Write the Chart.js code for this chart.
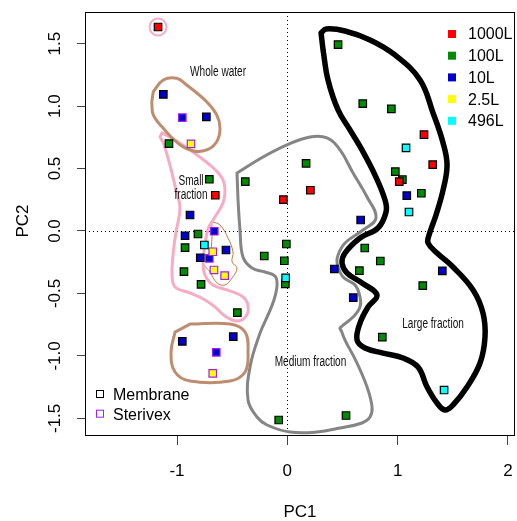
<!DOCTYPE html>
<html><head><meta charset="utf-8">
<script src="https://cdn.jsdelivr.net/npm/chart.js@4/dist/chart.umd.min.js"></script>
<style>html,body{margin:0;padding:0;background:#fff;overflow:hidden}canvas{display:block}</style>
</head><body>
<canvas id="c" width="517" height="521"></canvas>
<script>
// ---------- data ----------
const seriesNames  = ['1000L','100L','10L','2.5L','496L'];
const seriesColors = ['#ff0000','#008b00','#0000cd','#ffff00','#00ffff'];
const filterNames  = ['Membrane','Sterivex'];
const filterColors = ['#000000','#a020f0'];

const pc1_1000L = [-1.172,-0.653,-0.036,0.209,1.239,1.318,1.015];
const pc2_1000L = [1.633,0.286,0.251,0.326,0.771,0.531,0.395];
const flt_1000L = ['M','M','M','M','M','M','M'];

const pc1_100L = [-1.073,-0.707,-0.381,-0.810,-0.927,-0.937,-0.782,-0.453,-0.209,0.170,-0.009,-0.027,-0.018,0.702,0.653,0.843,1.228,0.861,-0.078,0.532,0.460,0.684,0.943,0.979,1.043,1.215];
const pc2_100L = [0.699,0.414,0.395,-0.024,-0.133,-0.325,-0.427,-0.654,-0.200,0.542,-0.104,-0.238,-0.424,-0.136,-0.318,-0.240,-0.438,-0.849,-1.513,-1.477,1.492,1.019,0.977,0.475,0.411,0.302];
const flt_100L = ['M','M','M','M','M','M','M','M','M','M','M','M','M','M','M','M','M','M','M','M','M','M','M','M','M','M'];

const pc1_10L = [-1.124,-0.952,-0.734,-0.882,-0.927,-0.662,-0.556,-0.789,-0.707,-0.952,-0.490,-0.644,0.665,0.426,0.598,1.083,1.405];
const pc2_10L = [1.094,0.907,0.913,0.128,-0.038,-0.002,-0.152,-0.214,-0.219,-0.883,-0.846,-0.971,0.088,-0.304,-0.534,0.283,-0.320];
const flt_10L = ['M','S','M','M','M','S','M','M','S','M','M','S','M','M','M','M','M'];

const pc1_2_5L = [-0.873,-0.676,-0.665,-0.568,-0.676];
const pc2_2_5L = [0.697,-0.166,-0.312,-0.358,-1.139];
const flt_2_5L = ['S','S','S','S','S'];

const pc1_496L = [-0.752,-0.015,1.076,1.103,1.421];
const pc2_496L = [-0.112,-0.376,0.665,0.152,-1.273];
const flt_496L = ['M','M','M','M','M'];

const xTickValues = [-1,0,1,2];
const xTickLabels = ['-1','0','1','2'];
const yTickValues = [-1.5,-1,-0.5,0,0.5,1,1.5];
const yTickLabels = ['-1.5','-1.0','-0.5','0.0','0.5','1.0','1.5'];

// hand-drawn group outlines, in PC1/PC2 units
const wholeWaterOutline = [[-1.215,1.115],[-1.124,1.209],[-1.003,1.223],[-0.912,1.169],[-0.731,1.035],[-0.640,0.929],[-0.610,0.822],[-0.640,0.715],[-0.731,0.649],[-0.852,0.641],[-0.973,0.689],[-1.124,0.822],[-1.215,0.929],[-1.229,1.035]];
const wholeWaterBox2 = [[-0.882,-0.745],[-0.519,-0.745],[-0.383,-0.809],[-0.356,-0.969],[-0.383,-1.129],[-0.519,-1.201],[-0.882,-1.201],[-1.018,-1.129],[-1.054,-0.969],[-1.018,-0.809]];
const smallFractionOutline = [[-1.136,0.785],[-1.018,0.729],[-0.882,0.649],[-0.701,0.528],[-0.592,0.424],[-0.565,0.328],[-0.583,0.224],[-0.656,0.112],[-0.719,0.016],[-0.746,-0.112],[-0.764,-0.248],[-0.746,-0.352],[-0.674,-0.432],[-0.519,-0.480],[-0.402,-0.528],[-0.356,-0.600],[-0.374,-0.681],[-0.456,-0.721],[-0.565,-0.681],[-0.656,-0.608],[-0.746,-0.552],[-0.882,-0.496],[-1.018,-0.448],[-1.045,-0.352],[-1.036,-0.192],[-1.009,-0.008],[-0.973,0.184],[-1.009,0.328],[-1.064,0.528],[-1.118,0.689],[-1.154,0.753]];
const sterivexSmallOutline = [[-0.685,0.074],[-0.610,0.048],[-0.538,-0.056],[-0.492,-0.168],[-0.501,-0.248],[-0.456,-0.296],[-0.501,-0.376],[-0.565,-0.432],[-0.637,-0.416],[-0.701,-0.328],[-0.764,-0.248],[-0.701,-0.168],[-0.683,-0.056],[-0.683,0.024]];
const mediumFractionOutline = [[-0.456,0.464],[-0.220,0.592],[-0.003,0.689],[0.206,0.753],[0.360,0.745],[0.478,0.649],[0.596,0.464],[0.723,0.272],[0.804,0.104],[0.686,0.008],[0.523,-0.096],[0.460,-0.192],[0.451,-0.256],[0.505,-0.368],[0.614,-0.432],[0.659,-0.528],[0.659,-0.608],[0.596,-0.689],[0.478,-0.777],[0.490,-0.800],[0.523,-0.873],[0.632,-1.057],[0.723,-1.249],[0.768,-1.409],[0.750,-1.489],[0.677,-1.537],[0.478,-1.577],[0.269,-1.609],[0.024,-1.609],[-0.184,-1.553],[-0.275,-1.489],[-0.356,-1.353],[-0.338,-1.089],[-0.247,-0.817],[-0.175,-0.672],[-0.121,-0.552],[-0.093,-0.432],[-0.112,-0.360],[-0.202,-0.328],[-0.320,-0.296],[-0.402,-0.208],[-0.429,0.008],[-0.447,0.248]];
const largeFractionOutline = [[0.306,1.585],[0.351,1.617],[0.523,1.601],[0.750,1.529],[0.976,1.409],[1.203,1.209],[1.321,0.945],[1.412,0.705],[1.448,0.528],[1.412,0.328],[1.348,0.128],[1.285,-0.032],[1.276,-0.096],[1.357,-0.176],[1.502,-0.288],[1.684,-0.472],[1.774,-0.657],[1.792,-0.849],[1.747,-1.057],[1.629,-1.249],[1.502,-1.393],[1.430,-1.433],[1.357,-1.377],[1.267,-1.249],[1.185,-1.089],[1.049,-1.017],[0.868,-0.977],[0.704,-0.937],[0.632,-0.873],[0.659,-0.737],[0.732,-0.608],[0.813,-0.512],[0.677,-0.416],[0.541,-0.336],[0.496,-0.256],[0.523,-0.176],[0.659,-0.056],[0.822,0.024],[0.895,0.152],[0.886,0.248],[0.795,0.448],[0.677,0.649],[0.568,0.809],[0.460,0.969],[0.369,1.209],[0.324,1.449]];
const highlightPoint = [[-1.172,1.633]];

const annotTexts = ['Whole water','Small','fraction','Medium fraction','Large fraction'];
const annotPC1   = [-0.628,-0.873,-0.873,0.210,1.321];
const annotPC2   = [1.273,0.400,0.288,-1.049,-0.745];

// ---------- build ----------
const toXY = (xs, ys) => xs.map((v, i) => ({x: v, y: ys[i]}));
const toPts = o => o.map(p => ({x: p[0], y: p[1]}));
const borderOf = f => f.map(t => t === 'S' ? filterColors[1] : filterColors[0]);

const seriesData = [
  [pc1_1000L, pc2_1000L, flt_1000L],
  [pc1_100L, pc2_100L, flt_100L],
  [pc1_10L, pc2_10L, flt_10L],
  [pc1_2_5L, pc2_2_5L, flt_2_5L],
  [pc1_496L, pc2_496L, flt_496L]
];
const drawOrder = [2, 5, 4, 3, 1];

const datasets = seriesData.map((s, i) => ({
  label: seriesNames[i],
  data: toXY(s[0], s[1]),
  pointStyle: 'rect',
  pointRadius: 5.3,
  pointBackgroundColor: seriesColors[i],
  pointBorderColor: borderOf(s[2]),
  pointBorderWidth: 1.2,
  showLine: false,
  order: drawOrder[i]
}));

function outlineDs(o, color, width) {
  return {data: toPts(o), showLine: true, pointRadius: 0, borderColor: color, borderWidth: width,
          tension: 0.4, fill: false, order: 10, closedLoop: true, borderCapStyle: 'round', borderJoinStyle: 'round'};
}
datasets.push(outlineDs(wholeWaterOutline, '#be8c6e', 3));
datasets.push(outlineDs(wholeWaterBox2, '#be8c6e', 3));
datasets.push(outlineDs(smallFractionOutline, '#f7abc4', 3));
datasets.push(outlineDs(sterivexSmallOutline, '#c07a48', 1));
datasets.push(outlineDs(mediumFractionOutline, '#858585', 3));
datasets.push(outlineDs(largeFractionOutline, '#000000', 5.5));
datasets.push({data: toPts(highlightPoint), pointStyle: 'circle', pointRadius: 8.5, pointBackgroundColor: 'rgba(0,0,0,0)',
  pointBorderColor: '#f7abc4', pointBorderWidth: 2, showLine: false, order: 0});

const FONT = '"Liberation Sans", Arial, sans-serif';

const closeLoops = {
  id: 'closeLoops',
  beforeDatasetDraw(chart, args) {
    const ds = chart.data.datasets[args.index];
    if (!ds.closedLoop) return;
    const line = args.meta.dataset;
    if (!line) return;
    line._loop = true;
    line._fullLoop = true;
    delete line._segments;
    delete line._path;
    line._pointsUpdated = false;
  }
};

const deco = {
  id: 'deco',
  beforeDatasetsDraw(chart) {
    const {ctx, chartArea: a, scales: {x, y}} = chart;
    ctx.save();
    ctx.strokeStyle = '#000';
    ctx.lineWidth = 1;
    ctx.setLineDash([1, 3]);
    const x0 = Math.round(x.getPixelForValue(0)) + 0.5;
    const y0 = Math.round(y.getPixelForValue(0)) + 0.5;
    ctx.beginPath();
    ctx.moveTo(a.left, y0); ctx.lineTo(a.right, y0);
    ctx.moveTo(x0, a.top); ctx.lineTo(x0, a.bottom);
    ctx.stroke();
    ctx.restore();
  },
  afterDatasetsDraw(chart) {
    const {ctx, scales: {x, y}} = chart;
    ctx.save();
    ctx.fillStyle = '#111';
    ctx.textAlign = 'center';
    ctx.textBaseline = 'middle';
    ctx.font = '14px ' + FONT;
    annotTexts.forEach((t, i) => {
      ctx.save();
      ctx.translate(x.getPixelForValue(annotPC1[i]), y.getPixelForValue(annotPC2[i]));
      ctx.scale(0.72, 1);
      ctx.fillText(t, 0, 0);
      ctx.restore();
    });
    ctx.restore();
  },
  afterDraw(chart) {
    const {ctx, chartArea: a, scales: {x, y}} = chart;
    ctx.save();
    // box
    ctx.strokeStyle = '#000';
    ctx.lineWidth = 1;
    ctx.strokeRect(a.left + 0.5, a.top + 0.5, a.right - a.left - 1, a.bottom - a.top - 1);
    // tick labels
    ctx.fillStyle = '#000';
    ctx.font = '17px ' + FONT;
    ctx.textAlign = 'center';
    ctx.textBaseline = 'middle';
    xTickValues.forEach((v, i) => ctx.fillText(xTickLabels[i], x.getPixelForValue(v), a.bottom + 35));
    yTickValues.forEach((v, i) => {
      ctx.save();
      ctx.translate(a.left - 30, y.getPixelForValue(v));
      ctx.rotate(-Math.PI / 2);
      ctx.fillText(yTickLabels[i], 0, 0);
      ctx.restore();
    });
    // axis titles
    ctx.fillText('PC1', (a.left + a.right) / 2, 512);
    ctx.save();
    ctx.translate(23, (a.top + a.bottom) / 2 - 3);
    ctx.rotate(-Math.PI / 2);
    ctx.fillText('PC2', 0, 0);
    ctx.restore();
    // series legend (top right)
    ctx.font = '16px ' + FONT;
    ctx.textAlign = 'left';
    seriesNames.forEach((n, i) => {
      const cy = 34 + i * 21.7;
      ctx.fillStyle = seriesColors[i];
      ctx.fillRect(448, cy - 4, 8, 8);
      ctx.fillStyle = '#000';
      ctx.fillText(n, 468, cy + 1);
    });
    // filter legend (bottom left)
    filterNames.forEach((n, i) => {
      const cy = 394 + i * 19.7;
      ctx.strokeStyle = filterColors[i];
      ctx.lineWidth = 1;
      ctx.strokeRect(96.5, cy - 3.5, 7, 7);
      ctx.fillStyle = '#000';
      ctx.fillText(n, 113, cy + 2);
    });
    ctx.restore();
  }
};

new Chart(document.getElementById('c'), {
  type: 'scatter',
  data: {datasets},
  options: {
    responsive: false,
    animation: false,
    devicePixelRatio: 1,
    layout: {autoPadding: false, padding: {top: 12, right: 2, left: 0, bottom: 0}},
    plugins: {legend: {display: false}, tooltip: {enabled: false}},
    scales: {
      x: {
        type: 'linear', min: -1.834, max: 2.064, bounds: 'data',
        afterBuildTicks: s => { s.ticks = xTickValues.map(v => ({value: v})); },
        afterFit: s => { s.height = 85; },
        ticks: {display: false},
        grid: {drawOnChartArea: false, drawTicks: true, tickLength: 9, tickColor: '#444', tickWidth: 1},
        border: {display: false}
      },
      y: {
        type: 'linear', min: -1.641, max: 1.753, bounds: 'data',
        afterBuildTicks: s => { s.ticks = yTickValues.map(v => ({value: v})); },
        afterFit: s => { s.width = 85; },
        ticks: {display: false},
        grid: {drawOnChartArea: false, drawTicks: true, tickLength: 8, tickColor: '#444', tickWidth: 1},
        border: {display: false}
      }
    }
  },
  plugins: [closeLoops, deco]
});
</script>
</body></html>
